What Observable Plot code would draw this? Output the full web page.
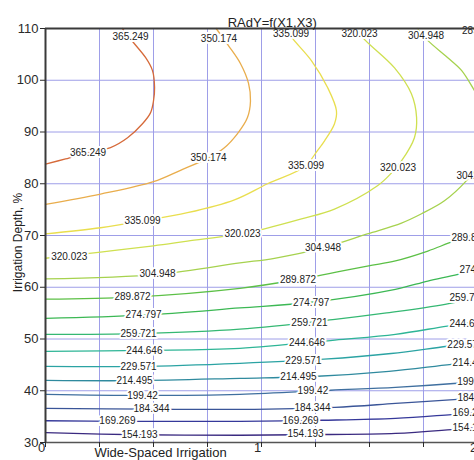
<!DOCTYPE html>
<html><head><meta charset="utf-8">
<script src="https://cdn.jsdelivr.net/npm/d3@7"></script>
<script src="https://cdn.jsdelivr.net/npm/@observablehq/plot@0.6"></script>
<style>
html,body{margin:0;padding:0;background:#fff;overflow:hidden;}
#chart{width:474px;height:460px;overflow:hidden;}
</style></head><body><div id="chart"></div>
<script>
// contour levels of RAdY (ascending)
const levels = [154.193, 169.269, 184.344, 199.42, 214.495, 229.571, 244.646, 259.721, 274.797, 289.872, 304.948, 320.023, 335.099, 350.174, 365.249];
const xTicks = [0, 1, 2];
const xGrid = [0, 0.25, 0.5, 0.75, 1, 1.25, 1.5, 1.75, 2];
const yTicks = [30, 40, 50, 60, 70, 80, 90, 100, 110];

// contour lines: [X1, X3]
const line154 = [[0,31.9],[0.43,31.5],[0.9,31.4],[1.3,31.55],[1.62,31.75],[1.88,32.5],[2.1,33.3]];
const line169 = [[0,34.2],[0.33,34.1],[0.9,34.1],[1.28,34.3],[1.62,34.65],[1.88,35.4],[2.1,36.1]];
const line184 = [[0,36.6],[0.49,36.45],[0.9,36.4],[1.34,36.8],[1.62,37.55],[1.89,38.3],[2.1,38.9]];
const line199 = [[0,39.3],[0.45,39.1],[0.9,39.3],[1.32,40.1],[1.62,40.65],[1.89,41.4],[2.1,42.2]];
const line214 = [[0,42.0],[0.41,41.95],[0.9,42.4],[1.26,42.8],[1.59,43.75],[1.88,45.1],[2.1,46.0]];
const line229 = [[0,44.7],[0.43,44.7],[0.9,45.3],[1.29,46.1],[1.6,47.2],[1.86,48.6],[2.1,49.8]];
const line244 = [[0,47.6],[0.46,47.8],[0.9,48.2],[1.34,49.8],[1.62,50.9],[1.86,52.5],[2.1,54.0]];
const line259 = [[0,50.9],[0.43,51.05],[0.9,51.9],[1.34,53.8],[1.57,55.0],[1.85,56.7],[2.1,59.0]];
const line274 = [[0,54.0],[0.45,54.6],[0.9,56.0],[1.23,57.1],[1.62,59.6],[1.77,61.2],[1.91,62.5],[2.1,64.6]];
const line289 = [[0,57.7],[0.4,58.1],[0.9,59.8],[1.17,61.5],[1.49,64.1],[1.62,65.1],[1.77,67.0],[1.89,68.9],[2.1,71.8]];
const line304 = [[0,61.6],[0.52,62.5],[0.9,64.7],[1.06,65.6],[1.285,67.6],[1.49,70.3],[1.648,72.4],[1.741,74.2],[1.847,76.7],[1.949,80.6],[2.02,84.5],[2.05,90],[2.03,95],[1.986,98.0],[1.926,101.9],[1.861,104.4],[1.769,107.7],[1.72,110]];
const line320 = [[0,65.6],[0.255,66.8],[0.5,68.0],[0.657,68.9],[0.903,70.3],[1.014,71.3],[1.185,73.2],[1.338,75.1],[1.537,79.6],[1.6,82.0],[1.648,84.4],[1.708,88.9],[1.718,92.8],[1.694,97.4],[1.616,102.4],[1.468,108.3],[1.444,110]];
const line335 = [[0,70.3],[0.255,71.5],[0.449,72.8],[0.657,74.4],[0.875,76.9],[1.028,80.0],[1.199,83.3],[1.259,86.4],[1.292,88.3],[1.338,91.6],[1.347,94.1],[1.306,98.6],[1.231,103.8],[1.144,108.1],[1.116,110]];
const line350 = [[0,76.0],[0.255,78.0],[0.5,80.4],[0.625,82.6],[0.755,85.0],[0.824,86.8],[0.889,89.7],[0.935,92.8],[0.949,96.0],[0.94,99.4],[0.903,103.2],[0.847,106.7],[0.79,110]];
const line365 = [[0,83.8],[0.093,84.8],[0.197,86.0],[0.301,87.0],[0.38,88.9],[0.449,91.6],[0.486,93.7],[0.5,96.0],[0.505,98.6],[0.495,101.9],[0.463,104.4],[0.407,107.3],[0.356,110]];
const lines = [line154, line169, line184, line199, line214, line229, line244, line259, line274, line289, line304, line320, line335, line350, line365];

// where each level's value is written on its line: [X1, X3]
const lab154 = [[0.435,31.5],[1.204,31.6],[1.968,32.8]];
const lab169 = [[0.333,34.1],[1.181,34.2],[1.968,35.7]];
const lab184 = [[0.491,36.45],[1.236,36.8],[1.991,38.6]];
const lab199 = [[0.449,39.1],[1.238,39.9],[1.977,41.8]];
const lab214 = [[0.412,41.95],[1.171,42.6],[1.968,45.4]];
const lab229 = [[0.431,44.7],[1.194,45.8],[1.944,48.9]];
const lab244 = [[0.458,47.8],[1.211,49.2],[1.954,52.9]];
const lab259 = [[0.431,51.05],[1.222,53.1],[1.954,57.95]];
const lab274 = [[0.454,54.7],[1.23,57.0],[2.0,63.45]];
const lab289 = [[0.403,58.1],[1.169,61.5],[1.963,69.6],[2.012,109.6]];
const lab304 = [[0.519,62.6],[1.285,67.6],[1.986,81.5],[1.762,108.6]];
const lab320 = [[0.11,65.8],[0.912,70.35],[1.632,83.1],[1.454,109.0]];
const lab335 = [[0.449,72.8],[1.206,83.5],[1.137,109.0]];
const lab350 = [[0.755,85.0],[0.803,108.0]];
const lab365 = [[0.197,86.0],[0.394,108.45]];
const labelSpots = [lab154, lab169, lab184, lab199, lab214, lab229, lab244, lab259, lab274, lab289, lab304, lab320, lab335, lab350, lab365];

const colors = ["#3a2a80","#35389a","#3a5598","#3f6f9f","#2f8a9e","#2ba3a3","#2eb596","#35b873","#3cb854","#5cc046","#a6d24e","#cfe050","#e9de4e","#e9ad4c","#d66a3a"];

const rows = lines.flatMap((pts, i) => pts.map(([x, y]) => ({level: levels[i], x, y})));
const labelRows = labelSpots.flatMap((pts, i) => pts.map(([x, y]) => ({level: levels[i], x, y})));

const chart = Plot.plot({
  width: 500, height: 460,
  marginLeft: 45, marginRight: 1.4, marginTop: 28, marginBottom: 18,
  x: {domain: [0, 2.1]},
  y: {domain: [30, 110]},
  color: {type: "ordinal", domain: levels, range: colors},
  style: {fontFamily: "'Liberation Sans', Arial, sans-serif", fontSize: "13px", color: "#2a2a2a", background: "white", maxWidth: "none"},
  marks: [
    Plot.gridX(xGrid, {stroke: "#9e9ee8", strokeOpacity: 1}),
    Plot.gridY(yTicks, {stroke: "#9e9ee8", strokeOpacity: 1}),
    Plot.line(rows, {x: "x", y: "y", z: "level", stroke: "level", curve: "catmull-rom", strokeWidth: 1.3}),
    Plot.text(labelRows, {x: "x", y: "y", text: d => String(d.level), fontSize: 10, fill: "#222", stroke: "white", strokeWidth: 4}),
    Plot.ruleX([xGrid[0]], {stroke: "#3a3a3a", strokeWidth: 2}),
    Plot.ruleY([yTicks[yTicks.length - 1]], {stroke: "#3a3a3a", strokeWidth: 2}),
    Plot.ruleY([yTicks[0]], {stroke: "#555", strokeWidth: 1.5}),
    Plot.axisY(yTicks, {tickSize: 5, tickPadding: 2, label: null, fontSize: 13}),
    Plot.axisX(xGrid, {tickSize: 5, tickFormat: () => "", label: null}),
    Plot.text(xTicks, {x: d => d, frameAnchor: "bottom", dy: 9, dx: -4, fontSize: 13, fill: "#2a2a2a"}),
    Plot.text(["RAdY=f(X1,X3)"], {frameAnchor: "top", dy: -11, fontSize: 13, fill: "#222"}),
    Plot.text(["Irrigation Depth, %"], {frameAnchor: "left", dx: -27, dy: 7, rotate: -90, textAnchor: "middle", fontSize: 12, fill: "#222"}),
    Plot.text(["Wide-Spaced Irrigation"], {frameAnchor: "bottom-left", dx: 115, dy: 14, textAnchor: "middle", fontSize: 13, fill: "#222"})
  ]
});
document.getElementById("chart").append(chart);
</script>
</body></html>
